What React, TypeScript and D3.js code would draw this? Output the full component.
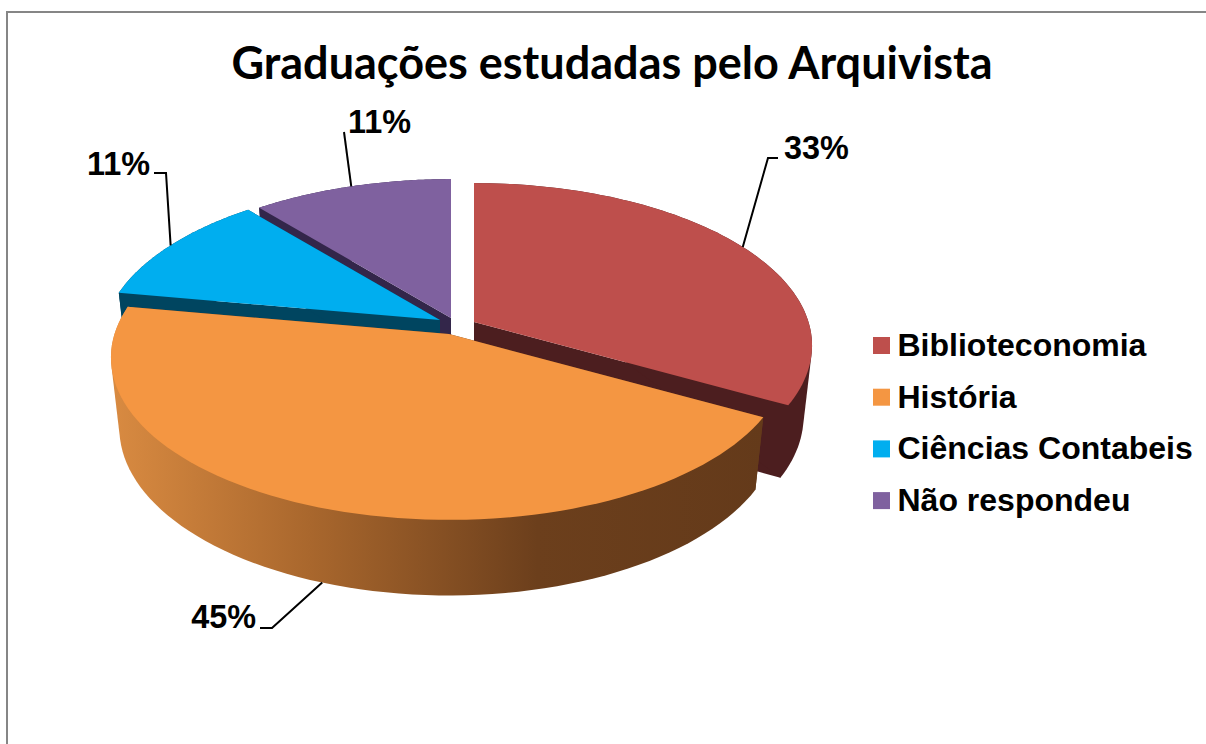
import React from "react";
import * as d3 from "d3";

const categories = ["Biblioteconomia", "História", "Ciências Contabeis", "Não respondeu"];
const seriesValues = [33.1, 44.7, 11.2, 11];
const valueLabels = ["33%", "45%", "11%", "11%"];
const titleText = "Graduações estudadas pelo Arquivista";

const topColors = ["#BE4F4C", "#F49642", "#00AEEF", "#7F619F"];
const wallColors = ["#4C1E1F", "#643A1A", "#004560", "#33264A"];

// per-slice exploded apex position
const apex = [
  { x: 474, y: 322 },
  { x: 449, y: 334 },
  { x: 440, y: 320 },
  { x: 451, y: 318 },
];
// label layout: text anchor x, baseline y, leader elbow points (relative to page)
const labelLayout = [
  { x: 784, y: 159, anchor: "start", elbow: [768, 158], end: [778, 158], onBottom: false },
  { x: 256, y: 628, anchor: "end", elbow: [272, 628], end: [260, 628], onBottom: true },
  { x: 150, y: 175, anchor: "end", elbow: [166, 173], end: [154, 173], onBottom: false },
  { x: 348, y: 133, anchor: "start", elbow: [344, 132], end: [344, 132], onBottom: false },
];

const RX = 334.5, RY = 159, K = 0.1446, SX = 0.975, SY = 1.03, DEPTH = 70;

function top(i: number, a: number): [number, number] {
  const u = Math.sin(a), v = -Math.cos(a), d = 1 - K * v;
  return [apex[i].x + (RX * u) / d, apex[i].y + (RY * v) / d];
}
function bottom(i: number, a: number): [number, number] {
  const [x, y] = top(i, a);
  return [apex[i].x + (x - apex[i].x) * SX, apex[i].y + (y - apex[i].y) * SY + DEPTH];
}

const line = d3.line();
const arcs = d3.pie<number>().sort(null)(seriesValues);
const angles = (s: number, e: number) => {
  const n = 80;
  return d3.range(n + 1).map((k) => s + ((e - s) * k) / n);
};

export default function App() {
  const drawOrder = [3, 2, 0, 1];
  return (
    <svg width={1206} height={744} style={{ position: "absolute", left: 0, top: 0, display: "block", background: "#fff" }}>
      <defs>
        <linearGradient id="orangeWall" gradientUnits="userSpaceOnUse" x1={115} x2={765} y1={0} y2={0}>
          <stop offset="0" stopColor="#D88A41" />
          <stop offset="0.3" stopColor="#A9672D" />
          <stop offset="0.65" stopColor="#6C3F1C" />
          <stop offset="1" stopColor="#643A1A" />
        </linearGradient>
      </defs>
      <path d="M7,744V12H1206" fill="none" stroke="#868686" strokeWidth={2} />
      <text x={612} y={79} textAnchor="middle" fontFamily="Lato" fontWeight={700} fontSize={45} fill="#000">{titleText}</text>
      {drawOrder.map((i) => {
        const arc = arcs[i];
        const as = angles(arc.startAngle, arc.endAngle);
        const A: [number, number] = [apex[i].x, apex[i].y];
        const B: [number, number] = [apex[i].x, apex[i].y + DEPTH];
        const wall = i === 1 ? "url(#orangeWall)" : wallColors[i];
        const tops = as.map((a) => top(i, a));
        const bots = as.map((a) => bottom(i, a));
        const hull = d3.polygonHull([...tops, ...bots])!;
        return (
          <g key={i}>
            <path d={line([A, tops[0], bots[0], B])! + "Z"} fill={wallColors[i]} />
            <path d={line([A, tops[tops.length - 1], bots[bots.length - 1], B])! + "Z"} fill={wallColors[i]} />
            <path d={line(hull)! + "Z"} fill={wall} />
            <path d={line([A, ...tops])! + "Z"} fill={topColors[i]} />
          </g>
        );
      })}
      {labelLayout.map((l, i) => {
        const arc = arcs[i];
        const mid = (arc.startAngle + arc.endAngle) / 2;
        const p = l.onBottom ? bottom(i, mid) : top(i, mid);
        return (
          <g key={i}>
            <path d={line([p, l.elbow as [number, number], l.end as [number, number]])!} fill="none" stroke="#000" strokeWidth={2} />
            <text x={l.x} y={l.y} textAnchor={l.anchor as any} fontFamily="Liberation Sans" fontWeight={700} fontSize={32.4} fill="#000">{valueLabels[i]}</text>
          </g>
        );
      })}
      {categories.map((c, i) => (
        <g key={c}>
          <rect x={873} y={337 + i * 51.7} width={17} height={17} fill={topColors[i]} />
          <text x={897.5} y={356 + i * 51.7} fontFamily="Liberation Sans" fontWeight={700} fontSize={32} fill="#000">{c}</text>
        </g>
      ))}
    </svg>
  );
}
